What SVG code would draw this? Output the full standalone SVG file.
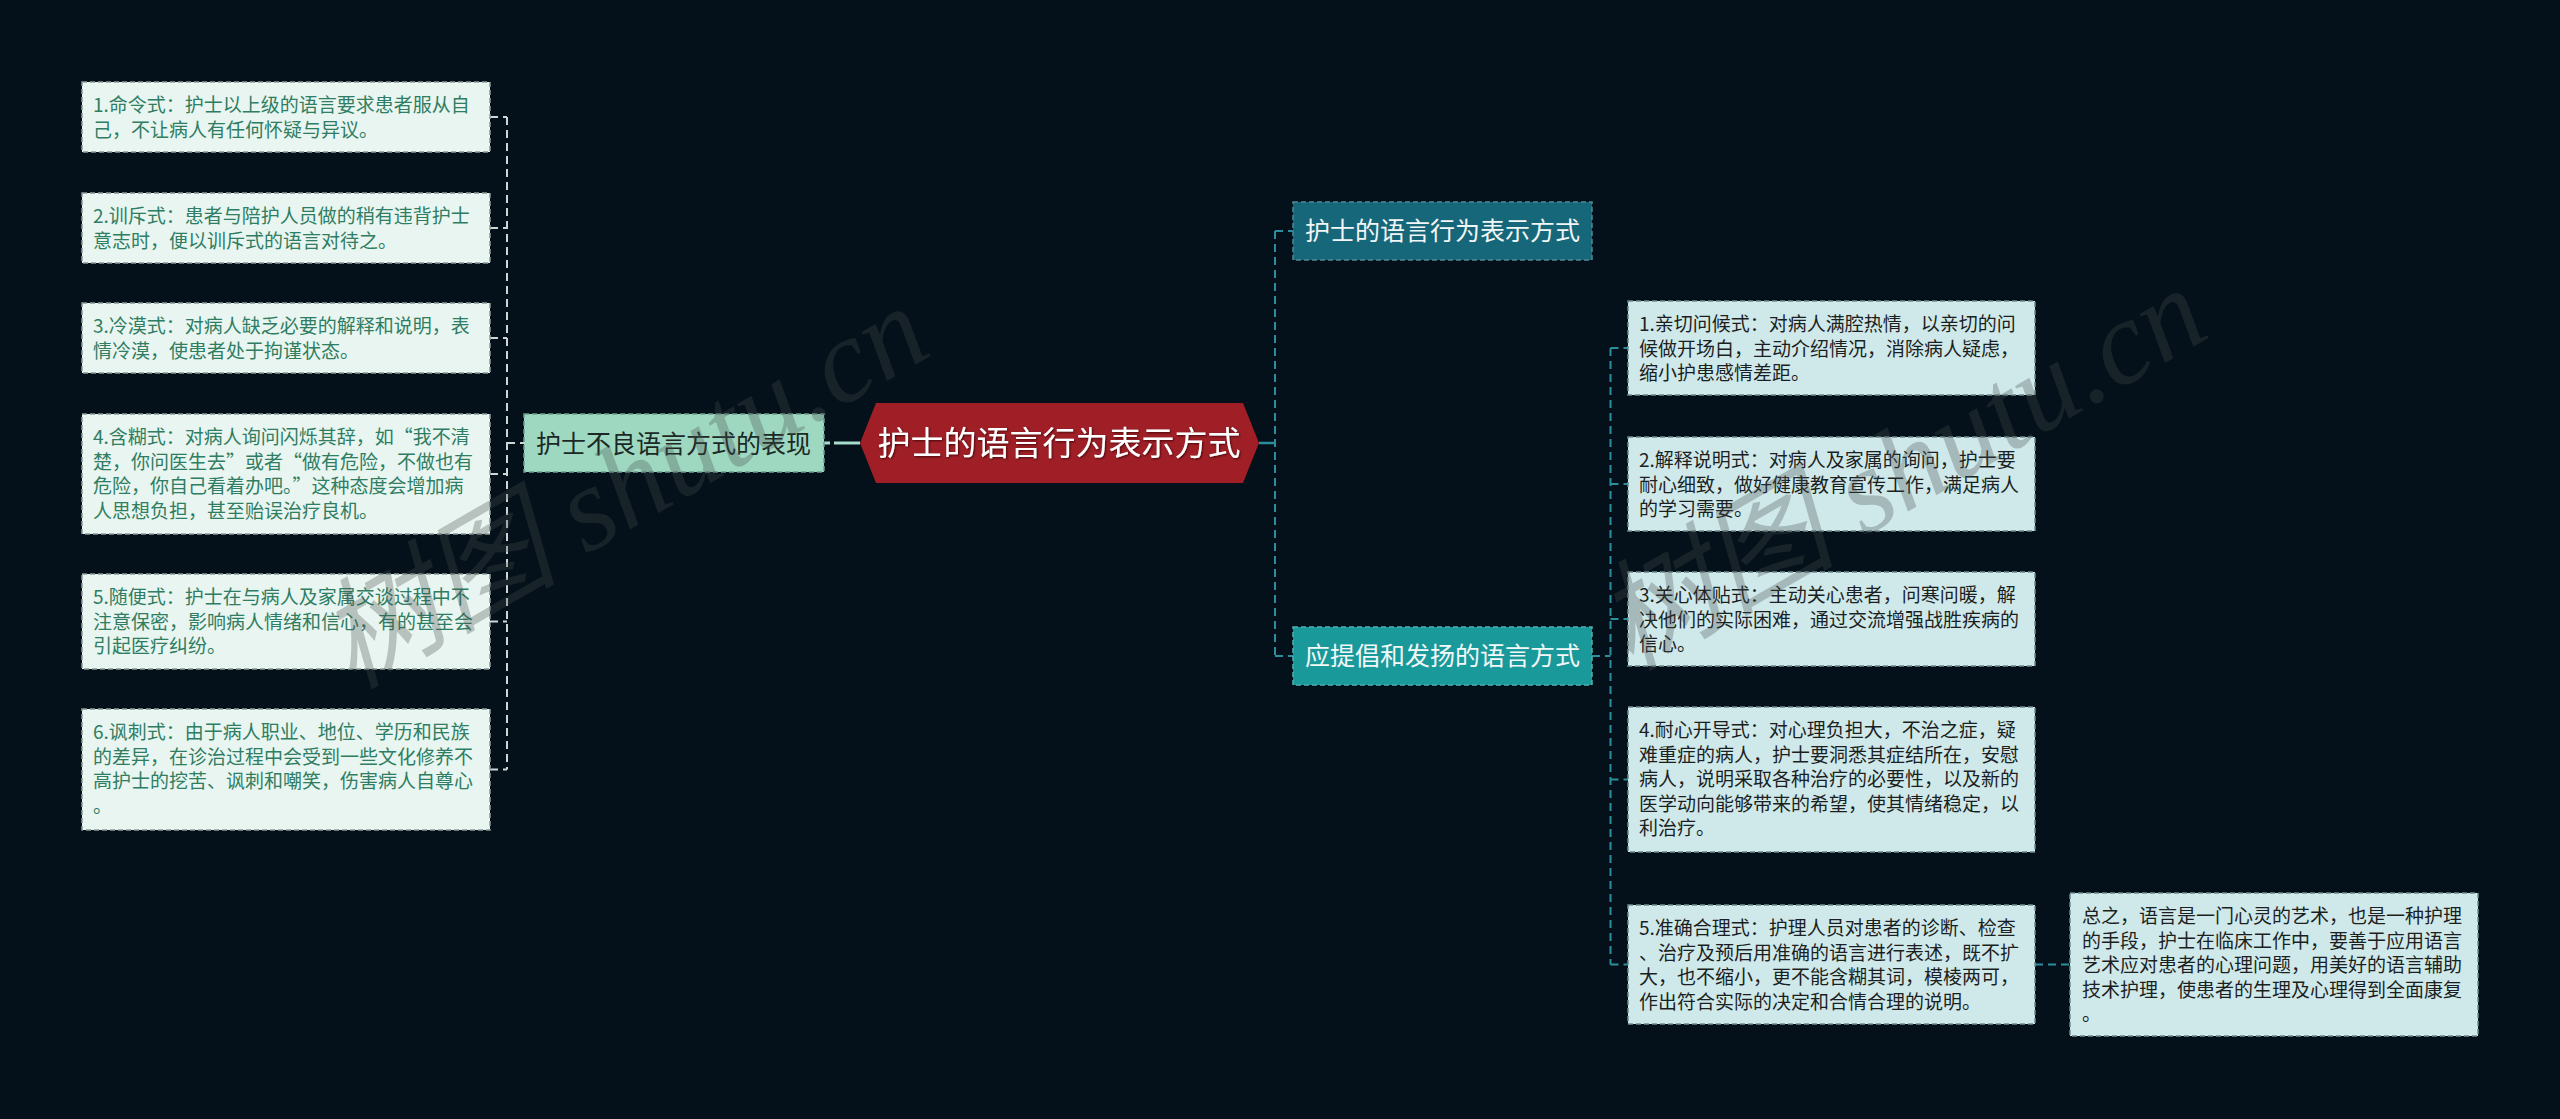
<svg xmlns="http://www.w3.org/2000/svg" width="2560" height="1119" viewBox="0 0 2560 1119">
<defs>
<style>
.bg{fill:#04111a}
.lbox{fill:#e8f5f0;stroke:#8a9a98;stroke-width:1.5;stroke-dasharray:5 3}
.ltxt{font-family:"Noto Sans CJK SC","Microsoft YaHei",sans-serif;font-size:19px;fill:#2f7d62}
.rbox{fill:#cfe9eb;stroke:#6f8a8e;stroke-width:1.5;stroke-dasharray:5 3}
.rtxt{font-family:"Noto Sans CJK SC","Microsoft YaHei",sans-serif;font-size:19px;fill:#1c1f22}
.sub{font-family:"Noto Sans CJK SC","Microsoft YaHei",sans-serif;font-size:25px}
.cl{fill:none;stroke:#cdd5d5;stroke-width:2;stroke-dasharray:8 5}
.cr{fill:none;stroke:#2a8e9c;stroke-width:2;stroke-dasharray:8 5}
.fw{font-feature-settings:"fwid" 1}
.wm{font-family:"Liberation Serif","Noto Sans CJK SC",serif;font-style:italic;font-size:120px;fill:#454c4c;fill-opacity:0.3}
</style>
<filter id="sh" x="-10%" y="-10%" width="120%" height="130%"><feDropShadow dx="1" dy="1" stdDeviation="0.8" flood-color="#300" flood-opacity="0.8"/></filter>
</defs>
<rect class="bg" x="0" y="0" width="2560" height="1119"/>

<g id="connectors">
<path class="cl" d="M507,117 V769.5 M490,117 H507 M490,228 H507 M490,338 H507 M490,474 H507 M490,621.5 H507 M490,769.5 H507 M507,443 H524"/>
<path d="M824,443 H838" fill="none" stroke="#a5dccb" stroke-width="3" stroke-dasharray="6 4"/>
<path d="M838,443 H860" fill="none" stroke="#a5dccb" stroke-width="3"/>
<path d="M1259,443 H1275" fill="none" stroke="#2a8e9c" stroke-width="2.5"/>
<path class="cr" d="M1275,231 V656 M1275,231 H1293 M1275,656 H1293"/>
<path class="cr" d="M1592,656 H1610.5 M1610.5,348 V964.5 M1610.5,348 H1628 M1610.5,484 H1628 M1610.5,619 H1628 M1610.5,779.5 H1628 M1610.5,964.5 H1628"/>
<path class="cr" d="M2035,964.5 H2070"/>
</g>

<g id="root">
<polygon points="860,443 876,403 1243,403 1259,443 1243,483 876,483" fill="#a01f27"/>
<text x="1059" y="455" text-anchor="middle" filter="url(#sh)" style="font-family:'Noto Sans CJK SC','Microsoft YaHei',sans-serif;font-size:33px;fill:#ffffff">护士的语言行为表示方式</text>
</g>

<g id="sub-left">
<rect x="524" y="414" width="300" height="58" fill="#9ed8c1" stroke="#6f9a8c" stroke-width="1.5" stroke-dasharray="5 3"/>
<text class="sub" x="536" y="453" fill="#1b2826">护士不良语言方式的表现</text>
</g>

<g id="sub-right-1">
<rect x="1293" y="202" width="299" height="58" fill="#17677a" stroke="#4f8a96" stroke-width="1.5" stroke-dasharray="5 3"/>
<text class="sub" x="1305" y="240" fill="#f2f6f6">护士的语言行为表示方式</text>
</g>

<g id="sub-right-2">
<rect x="1293" y="627" width="299" height="58" fill="#1a999b" stroke="#4fb0b0" stroke-width="1.5" stroke-dasharray="5 3"/>
<text class="sub" x="1305" y="665" fill="#f2f8f8">应提倡和发扬的语言方式</text>
</g>

<g id="left-1">
<rect class="lbox" x="82" y="82" width="408" height="70"/>
<text class="ltxt" x="93" y="112"><tspan x="93">1.命令式：护士以上级的语言要求患者服从自</tspan><tspan x="93" dy="24.5">己，不让病人有任何怀疑与异议。</tspan></text>
</g>
<g id="left-2">
<rect class="lbox" x="82" y="193" width="408" height="70"/>
<text class="ltxt" x="93" y="223"><tspan x="93">2.训斥式：患者与陪护人员做的稍有违背护士</tspan><tspan x="93" dy="24.5">意志时，便以训斥式的语言对待之。</tspan></text>
</g>
<g id="left-3">
<rect class="lbox" x="82" y="303" width="408" height="70"/>
<text class="ltxt" x="93" y="333"><tspan x="93">3.冷漠式：对病人缺乏必要的解释和说明，表</tspan><tspan x="93" dy="24.5">情冷漠，使患者处于拘谨状态。</tspan></text>
</g>
<g id="left-4">
<rect class="lbox" x="82" y="414" width="408" height="120"/>
<text class="ltxt" x="93" y="444"><tspan x="93">4.含糊式：对病人询问闪烁其辞，如<tspan class="fw">“</tspan>我不清</tspan><tspan x="93" dy="24.5">楚，你问医生去<tspan class="fw">”</tspan>或者<tspan class="fw">“</tspan>做有危险，不做也有</tspan><tspan x="93" dy="24.5">危险，你自己看着办吧。<tspan class="fw">”</tspan>这种态度会增加病</tspan><tspan x="93" dy="24.5">人思想负担，甚至贻误治疗良机。</tspan></text>
</g>
<g id="left-5">
<rect class="lbox" x="82" y="574" width="408" height="95"/>
<text class="ltxt" x="93" y="604"><tspan x="93">5.随便式：护士在与病人及家属交谈过程中不</tspan><tspan x="93" dy="24.5">注意保密，影响病人情绪和信心，有的甚至会</tspan><tspan x="93" dy="24.5">引起医疗纠纷。</tspan></text>
</g>
<g id="left-6">
<rect class="lbox" x="82" y="709" width="408" height="121"/>
<text class="ltxt" x="93" y="739"><tspan x="93">6.讽刺式：由于病人职业、地位、学历和民族</tspan><tspan x="93" dy="24.5">的差异，在诊治过程中会受到一些文化修养不</tspan><tspan x="93" dy="24.5">高护士的挖苦、讽刺和嘲笑，伤害病人自尊心</tspan><tspan x="93" dy="24.5">。</tspan></text>
</g>

<g id="right-1">
<rect class="rbox" x="1628" y="301" width="407" height="94"/>
<text class="rtxt" x="1639" y="331"><tspan x="1639">1.亲切问候式：对病人满腔热情，以亲切的问</tspan><tspan x="1639" dy="24.5">候做开场白，主动介绍情况，消除病人疑虑，</tspan><tspan x="1639" dy="24.5">缩小护患感情差距。</tspan></text>
</g>
<g id="right-2">
<rect class="rbox" x="1628" y="437" width="407" height="94"/>
<text class="rtxt" x="1639" y="467"><tspan x="1639">2.解释说明式：对病人及家属的询问，护士要</tspan><tspan x="1639" dy="24.5">耐心细致，做好健康教育宣传工作，满足病人</tspan><tspan x="1639" dy="24.5">的学习需要。</tspan></text>
</g>
<g id="right-3">
<rect class="rbox" x="1628" y="572" width="407" height="94"/>
<text class="rtxt" x="1639" y="602"><tspan x="1639">3.关心体贴式：主动关心患者，问寒问暖，解</tspan><tspan x="1639" dy="24.5">决他们的实际困难，通过交流增强战胜疾病的</tspan><tspan x="1639" dy="24.5">信心。</tspan></text>
</g>
<g id="right-4">
<rect class="rbox" x="1628" y="707" width="407" height="145"/>
<text class="rtxt" x="1639" y="737"><tspan x="1639">4.耐心开导式：对心理负担大，不治之症，疑</tspan><tspan x="1639" dy="24.5">难重症的病人，护士要洞悉其症结所在，安慰</tspan><tspan x="1639" dy="24.5">病人，说明采取各种治疗的必要性，以及新的</tspan><tspan x="1639" dy="24.5">医学动向能够带来的希望，使其情绪稳定，以</tspan><tspan x="1639" dy="24.5">利治疗。</tspan></text>
</g>
<g id="right-5">
<rect class="rbox" x="1628" y="905" width="407" height="119"/>
<text class="rtxt" x="1639" y="935"><tspan x="1639">5.准确合理式：护理人员对患者的诊断、检查</tspan><tspan x="1639" dy="24.5">、治疗及预后用准确的语言进行表述，既不扩</tspan><tspan x="1639" dy="24.5">大，也不缩小，更不能含糊其词，模棱两可，</tspan><tspan x="1639" dy="24.5">作出符合实际的决定和合情合理的说明。</tspan></text>
</g>
<g id="summary">
<rect class="rbox" x="2070" y="893" width="408" height="143"/>
<text class="rtxt" x="2082" y="923"><tspan x="2082">总之，语言是一门心灵的艺术，也是一种护理</tspan><tspan x="2082" dy="24.5">的手段，护士在临床工作中，要善于应用语言</tspan><tspan x="2082" dy="24.5">艺术应对患者的心理问题，用美好的语言辅助</tspan><tspan x="2082" dy="24.5">技术护理，使患者的生理及心理得到全面康复</tspan><tspan x="2082" dy="24.5">。</tspan></text>
</g>

<g id="watermark">
<text class="wm" transform="translate(352,690) rotate(-30)">树图 shutu.cn</text>
<text class="wm" transform="translate(1630,672) rotate(-30)">树图 shutu.cn</text>
</g>
</svg>
